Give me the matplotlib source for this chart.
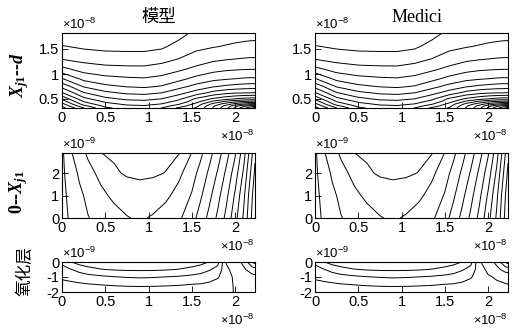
import matplotlib
matplotlib.use('Agg')
import matplotlib.pyplot as plt
import numpy as np
from matplotlib.ticker import ScalarFormatter

# grid nodes (x in units of 1e-8 m)
X1 = [0, 0.25, 0.5, 0.75, 0.95, 1.15, 1.35, 1.55, 1.75, 1.9, 2.0, 2.1, 2.17, 2.23]
Y1 = [0.32, 0.36, 0.40, 0.45, 0.50, 0.62, 0.75, 0.90, 1.10, 1.30, 1.55, 1.82]  # 1e-8
Z1 = [
    [12.4, 10.04, 8.2, 7.6, 7.5, 8.02, 9.2, 10.1, 12.1, 13.75, 15.21, 16.69, 17.68, 18.5],
    [11.85, 9.3, 7.77, 7.2, 7.1, 7.53, 8.5, 9.7, 11.89, 13.38, 14.6, 15.74, 16.31, 16.49],
    [11.29, 8.57, 7.33, 6.8, 6.7, 7.03, 7.89, 9.3, 11.31, 12.53, 13.29, 13.95, 14.28, 14.37],
    [10.56, 7.95, 6.82, 6.32, 6.22, 6.53, 7.3, 8.6, 10.22, 11.21, 11.72, 12.08, 12.22, 12.26],
    [9.83, 7.33, 6.3, 5.83, 5.75, 6.03, 6.8, 8.2, 9.2, 9.76, 10.07, 10.34, 10.44, 10.47],
    [8.12, 6.1, 5.25, 4.86, 4.77, 5.02, 5.67, 6.5, 7.4, 7.8, 7.96, 8.02, 8.03, 8.08],
    [6.7, 4.92, 4.23, 3.95, 3.85, 4.07, 4.67, 5.33, 5.92, 6.2, 6.33, 6.45, 6.5, 6.52],
    [5.11, 3.75, 3.33, 3.16, 3.1, 3.3, 3.75, 4.31, 4.75, 4.94, 5.03, 5.12, 5.16, 5.15],
    [3.27, 2.56, 2.3, 2.23, 2.22, 2.42, 2.8, 3.25, 3.64, 3.82, 3.88, 3.93, 3.96, 3.96],
    [1.96, 1.67, 1.53, 1.5, 1.5, 1.67, 2.02, 2.44, 2.79, 2.93, 3.0, 3.06, 3.09, 3.09],
    [1.07, 0.83, 0.7, 0.67, 0.67, 0.83, 1.34, 1.75, 1.94, 2.07, 2.16, 2.23, 2.27, 2.28],
    [0.1, -0.07, -0.2, -0.23, -0.23, -0.07, 0.63, 1.25, 1.4, 1.5, 1.55, 1.6, 1.63, 1.64],
]
LEVELS1 = list(range(1, 19))

X2 = [0, 0.1, 0.2, 0.3, 0.45, 0.6, 0.75, 0.9, 1.05, 1.2, 1.35, 1.5, 1.6, 1.7,
      1.8, 1.9, 2.0, 2.1, 2.2, 2.23]
Y2 = [0, 1, 2, 2.9]  # 1e-9
Z2 = [
    [0.7, 1.125, 1.54, 1.96, 2.3, 2.62, 2.94, 3.15, 2.88, 2.52, 2.17, 1.38, 0.58,
     -0.27, -1.2, -2.29, -3.63, -5.17, -7.25, -8.0],
    [0.75, 1.25, 1.79, 2.22, 2.76, 3.2, 3.5, 3.67, 3.6, 3.2, 2.64, 1.92, 1.15,
     0.27, -0.7, -1.78, -3.14, -4.8, -7.0, -7.6],
    [0.8, 1.48, 2.15, 2.65, 3.28, 3.88, 4.1, 4.14, 4.1, 3.98, 3.22, 2.4, 1.67,
     0.82, -0.11, -1.22, -2.5, -4.2, -6.5, -7.2],
    [0.8, 1.89, 2.56, 3.17, 3.99, 4.12, 4.25, 4.3, 4.25, 4.15, 4.05, 2.97, 2.23,
     1.36, 0.45, -0.625, -1.875, -3.6, -6.0, -6.8],
]
LEVELS2 = list(range(-7, 5))

X3 = X2
Y3 = [-2, -1.5, -1, -0.5, 0]  # 1e-9
Z3_MODEL = [
    [3.75, 3.75, 3.7, 3.65, 3.6, 3.6, 3.55, 3.55, 3.55, 3.58, 3.6, 3.65, 3.7,
     3.75, 3.8, 3.8, 4.05, 4.2, 4.3, 4.3],
    [3.35, 3.25, 3.15, 3.06, 2.97, 2.88, 2.83, 2.8, 2.82, 2.86, 2.92, 3.02, 3.07,
     3.2, 3.4, 3.7, 4.1, 4.3, 4.4, 4.45],
    [2.8, 2.65, 2.5, 2.36, 2.19, 2.05, 1.95, 1.89, 1.93, 2.02, 2.11, 2.26, 2.38,
     2.56, 2.9, 3.6, 4.2, 4.5, 4.7, 4.75],
    [2.3, 2.06, 1.68, 1.34, 1.05, 0.92, 0.86, 0.85, 0.86, 0.92, 1.04, 1.29, 1.53,
     1.9, 2.33, 3.8, 4.4, 4.85, 5.5, 5.5],
    [1.8, 1.05, 0.6, 0.4, 0.25, 0.15, 0.1, 0.1, 0.1, 0.15, 0.25, 0.45, 0.65,
     1.03, 1.7, 4.1, 4.55, 5.25, 7.05, 7.5],
]
Z3_MEDICI = [
    [3.75, 3.75, 3.7, 3.65, 3.6, 3.6, 3.55, 3.55, 3.55, 3.58, 3.6, 3.65, 3.7,
     3.75, 3.8, 3.8, 3.82, 3.85, 3.88, 3.9],
    [3.35, 3.25, 3.15, 3.06, 2.97, 2.88, 2.83, 2.8, 2.82, 2.86, 2.92, 3.02, 3.07,
     3.2, 3.4, 3.7, 3.8, 3.87, 3.95, 3.98],
    [2.8, 2.65, 2.5, 2.36, 2.19, 2.05, 1.95, 1.89, 1.93, 2.02, 2.11, 2.26, 2.38,
     2.56, 2.9, 3.55, 3.9, 4.1, 4.3, 4.35],
    [2.3, 2.06, 1.68, 1.34, 1.05, 0.92, 0.86, 0.85, 0.86, 0.92, 1.04, 1.29, 1.53,
     1.9, 2.33, 3.6, 4.2, 4.7, 5.4, 5.45],
    [1.8, 1.05, 0.6, 0.4, 0.25, 0.15, 0.1, 0.1, 0.1, 0.15, 0.25, 0.45, 0.65,
     1.03, 1.7, 3.9, 4.5, 5.3, 7.05, 7.5],
]
LEVELS3 = list(range(1, 8))

ROW_LABELS = [r'$X_{j\mathbf{1}}$--$d$', r'0--$X_{j\mathbf{1}}$', '氧化层']
COL_TITLES = ['模型', 'Medici']
X_TICKS = [0, 0.5, 1, 1.5, 2]
Y_TICKS = [[0.5, 1, 1.5], [0, 1, 2], [-2, -1, 0]]
Y_LIMS = [(0.32, 1.82), (0, 2.9), (-2, 0)]
Y_SCALE = [1e-8, 1e-9, 1e-9]

plt.rcParams['font.family'] = ['Liberation Sans', 'DejaVu Sans']
plt.rcParams['mathtext.fontset'] = 'custom'
plt.rcParams['mathtext.rm'] = 'Liberation Serif:bold'
plt.rcParams['mathtext.it'] = 'Liberation Serif:italic:bold'
plt.rcParams['mathtext.bf'] = 'Liberation Serif:bold'


class MatlabFormatter(ScalarFormatter):
    def __call__(self, x, pos=None):
        v = round(x / 10 ** self.orderOfMagnitude, 6) + 0.0
        return '%g' % v


fig = plt.figure(figsize=(5.25, 3.3), dpi=100)

lefts = [62 / 525, 315 / 525]
width = 193 / 525
rows = [(33, 108), (153, 218), (262, 292)]

fields = [
    [(X1, Y1, Z1, LEVELS1), (X1, Y1, Z1, LEVELS1)],
    [(X2, Y2, Z2, LEVELS2), (X2, Y2, Z2, LEVELS2)],
    [(X3, Y3, Z3_MODEL, LEVELS3), (X3, Y3, Z3_MEDICI, LEVELS3)],
]

for r, (top, bot) in enumerate(rows):
    for c in range(2):
        xs, ys, zs, lv = fields[r][c]
        ax = fig.add_axes([lefts[c], 1 - bot / 330, width, (bot - top) / 330])
        X = np.array(xs) * 1e-8
        Y = np.array(ys) * Y_SCALE[r]
        ax.contour(X, Y, np.array(zs), levels=lv, colors='k', linewidths=0.7,
                   linestyles='solid')
        ax.set_xlim(0, 2.23e-8)
        ax.set_ylim(Y_LIMS[r][0] * Y_SCALE[r], Y_LIMS[r][1] * Y_SCALE[r])
        ax.set_xticks(np.array(X_TICKS) * 1e-8)
        ax.set_yticks(np.array(Y_TICKS[r]) * Y_SCALE[r])
        for axis in (ax.xaxis, ax.yaxis):
            f = MatlabFormatter(useMathText=True)
            f.set_powerlimits((0, 0))
            axis.set_major_formatter(f)
            axis.get_offset_text().set_fontsize(9.5)
        ax.tick_params(direction='in', length=4, width=0.6, top=False,
                       right=False, labelsize=10.5, pad=2)
        for s in ax.spines.values():
            s.set_linewidth(0.8)

fig.text(0.303, 0.95, COL_TITLES[0], family=['Noto Sans CJK SC'], size=12.5,
         ha='center', va='center')
fig.text(0.795, 0.948, COL_TITLES[1], family='Liberation Serif', size=13,
         ha='center', va='center')

label_pos = [(0.038, 0.773), (0.036, 0.42), (0.048, 0.18)]
for i, lab in enumerate(ROW_LABELS):
    fam = ['Noto Sans CJK SC'] if i == 2 else 'Liberation Serif'
    fig.text(label_pos[i][0], label_pos[i][1], lab, family=fam,
             weight='bold' if i < 2 else 'normal', size=13 if i < 2 else 12,
             rotation=90, ha='center', va='center')

fig.savefig('out.png', dpi=100)
